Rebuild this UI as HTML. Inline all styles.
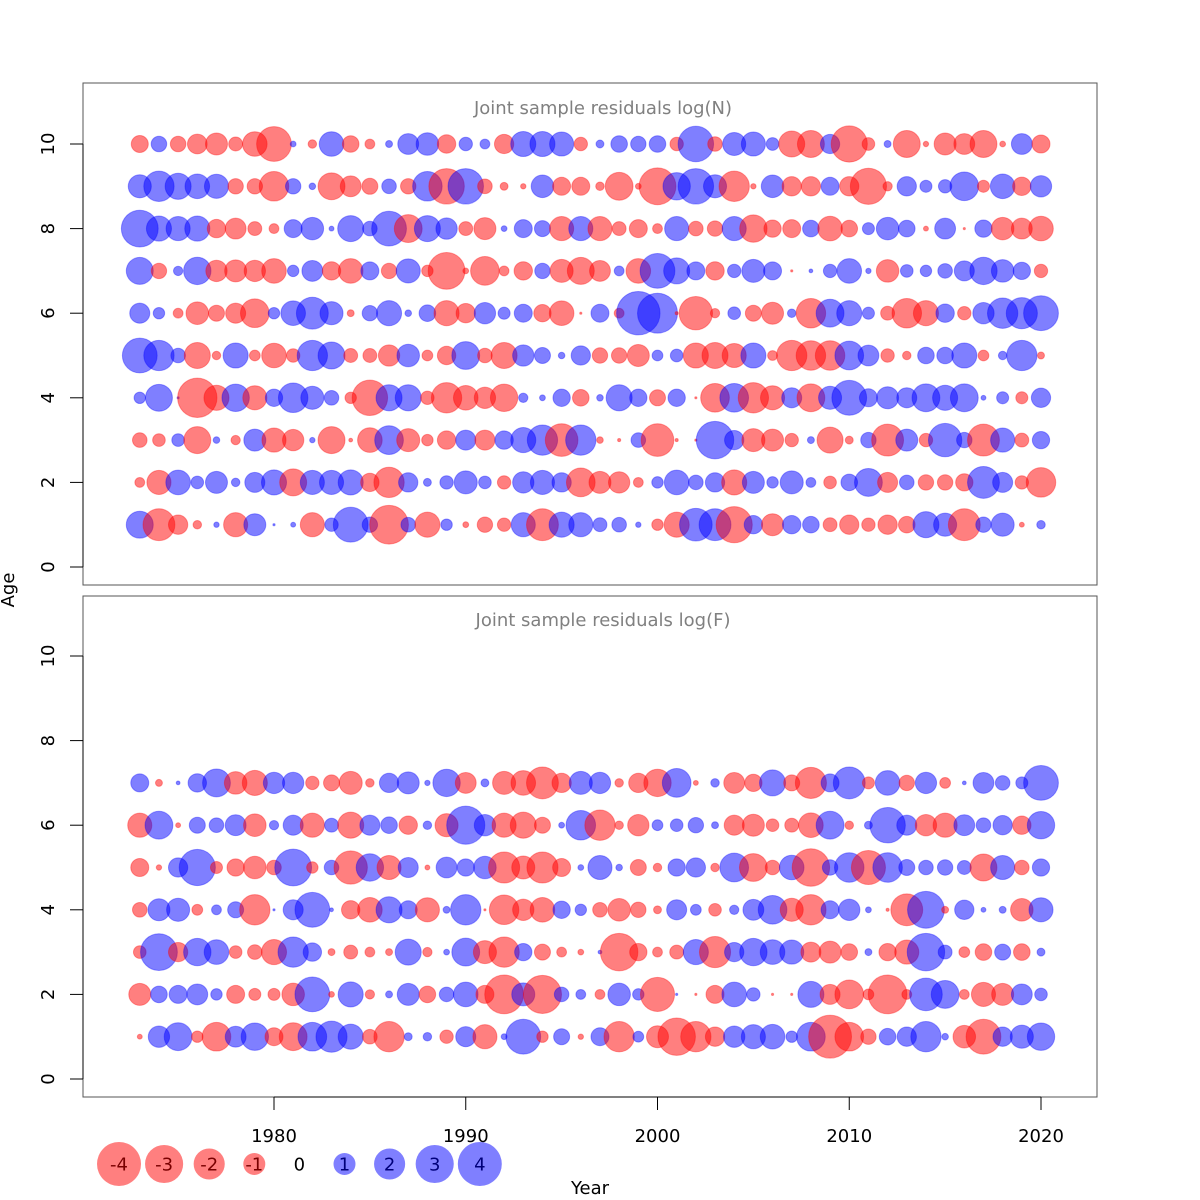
<!DOCTYPE html>
<html><head><meta charset="utf-8"><style>
html,body{margin:0;padding:0;background:#fff}
svg{display:block;font-family:"DejaVu Sans","Liberation Sans",sans-serif}
</style></head><body>
<svg id="chart" width="1200" height="1200" viewBox="0 0 1200 1200" xmlns="http://www.w3.org/2000/svg">
<rect width="1200" height="1200" fill="#fff"/>
<rect x="83" y="83" width="1014" height="502" fill="none" stroke="#555" stroke-width="1"/>
<rect x="83" y="596" width="1014" height="501" fill="none" stroke="#555" stroke-width="1"/>
<text x="603" y="114" text-anchor="middle" font-size="18" fill="#808080">Joint sample residuals log(N)</text>
<text x="603" y="626" text-anchor="middle" font-size="18" fill="#808080">Joint sample residuals log(F)</text>
<text transform="translate(14,590) rotate(-90)" text-anchor="middle" font-size="18" fill="#000">Age</text>
<text x="590" y="1194" text-anchor="middle" font-size="18" fill="#000">Year</text>
<g id="axes"></g>
<g id="marks"></g>
<g id="legend"></g>
</svg>
<script>
const years = [];
for (let y = 1973; y <= 2020; y++) years.push(y);
const xTicks = [1980, 1990, 2000, 2010, 2020];
const yTicks = [0, 2, 4, 6, 8, 10];
const legendValues = [-4, -3, -2, -1, 0, 1, 2, 3, 4];

const nAge10 = [-0.6,0.5,-0.5,-0.8,-1.0,-0.4,-1.25,-2.5,0.07,-0.15,1.25,-0.57,-0.2,0.1,0.9,1.05,-0.7,0.37,0.2,-0.77,1.3,1.3,1.2,-0.37,0.13,0.57,0.49,0.57,-0.37,2.6,-0.44,1.1,1.2,0.33,-1.4,-1.5,0.77,-2.7,-0.33,0.1,-1.5,-0.06,-1.0,-0.9,-1.5,-0.07,0.9,-0.67];
const nAge9 = [1.1,1.9,1.4,1.25,1.2,-0.49,-0.49,-1.8,0.49,0.09,-1.5,-0.9,-0.53,0.44,-0.49,1.8,-2.6,2.6,-0.44,-0.13,-0.06,1.05,-0.67,-0.67,-0.15,-1.6,-0.07,-2.8,1.55,2.6,1.1,-1.9,-0.06,1.05,-0.77,-0.77,0.67,-0.77,-2.7,-0.18,0.77,0.3,0.37,1.7,-0.3,1.25,-0.7,0.94];
const nAge8 = [2.8,1.3,1.2,1.3,-0.7,-0.9,-0.4,-0.2,0.67,1.05,0.05,1.4,0.44,2.5,-1.6,1.4,0.94,-0.4,-1.0,0.07,0.67,0.53,-1.2,1.2,-1.2,-0.4,-0.67,-0.2,1.2,-0.44,-0.49,1.2,-1.55,-0.62,-0.67,0.57,-1.25,-0.57,0.3,1.05,0.57,-0.05,0.9,-0.01,0.62,-1.05,-0.9,-1.25];
const nAge7 = [1.5,-0.49,0.18,1.55,-0.94,-1.0,-0.94,-1.25,0.27,0.9,-0.7,-1.25,0.67,-0.49,1.2,-0.27,-2.8,-0.07,-1.7,-0.2,-0.7,0.49,-1.1,-1.5,-0.9,0.2,-1.25,2.5,1.4,0.67,-0.7,0.37,1.1,0.67,-0.01,0.03,0.37,1.25,0.06,-1.05,0.33,0.27,0.44,0.83,1.55,1.05,0.62,-0.37];
const nAge6 = [0.83,0.27,-0.2,-1.05,-0.53,-0.83,-1.7,0.27,1.25,2.1,1.1,-0.1,0.49,1.3,0.09,0.57,-1.3,-0.77,0.94,0.3,0.67,-0.62,-1.25,-0.01,0.67,-0.2,3.9,3.3,-0.02,-2.3,-0.18,0.33,-0.53,-1.0,0.15,-1.8,1.6,1.3,0.3,-0.4,-1.8,-1.3,0.7,-0.37,0.94,1.9,2.0,2.5];
const nAge5 = [2.5,1.9,0.44,-1.4,-0.15,1.3,-0.24,-1.25,-0.37,1.9,1.5,-0.4,-0.4,-0.94,1.05,-0.24,-0.7,1.6,-0.44,-1.4,0.94,0.53,0.09,0.77,-0.49,-0.49,-1.0,0.24,0.33,-1.3,-1.4,-1.2,1.3,-0.2,-1.9,-1.8,-1.8,1.7,0.9,-0.37,-0.15,0.57,0.57,1.3,-0.24,0.15,1.9,-0.1];
const nAge4 = [0.27,1.5,0.01,-3.2,-1.3,1.55,-1.2,0.62,1.8,1.1,0.44,-0.27,-2.6,1.4,1.4,-0.37,-1.9,-1.25,-0.94,-1.55,0.18,0.07,0.62,-0.57,0.09,1.4,0.62,-0.53,0.62,-0.01,-1.7,1.7,-1.9,-1.2,0.83,-1.6,1.1,2.5,0.67,1.0,0.83,1.6,1.3,1.6,0.05,0.3,-0.3,0.77];
const nAge3 = [-0.44,-0.33,0.33,-1.5,0.09,-0.18,1.0,-1.2,-0.94,0.06,-1.5,-0.03,-1.25,1.7,-1.1,-0.27,-0.7,0.83,-0.83,0.7,1.3,1.9,-2.2,1.9,-0.09,-0.02,0.44,-2.2,-0.02,-0.01,2.9,0.77,-1.1,-1.0,-0.37,0.1,-1.4,-0.13,0.49,-2.1,1.0,-0.37,2.3,0.49,-2.1,1.2,-0.4,0.62];
const nAge2 = [-0.2,-1.2,1.25,0.33,1.0,0.15,0.83,1.3,-1.5,1.2,1.2,1.3,-0.7,-1.9,0.77,0.13,0.37,1.1,0.33,-0.37,0.94,1.2,0.77,-1.7,-1.0,-0.94,-0.2,0.27,1.25,0.44,0.77,-1.3,1.0,0.27,1.1,0.2,-0.33,0.57,1.6,-0.83,0.44,-0.49,-0.49,-0.62,2.1,0.83,-0.37,-1.8];
const nAge1 = [1.5,-2.1,-0.77,-0.15,0.06,-1.2,1.0,0.01,0.05,-1.2,0.37,2.5,0.49,-3.1,0.44,-1.3,0.27,-0.07,-0.49,-0.37,1.2,-2.1,1.3,1.2,0.4,0.44,0.06,-0.27,-1.3,2.2,2.1,-2.7,0.7,-1.0,0.7,0.57,-0.4,-0.77,-0.37,-0.77,-0.57,1.4,1.1,-2.1,0.49,1.1,-0.05,0.15];

const fAge7 = [0.67,-0.1,0.03,0.7,1.6,-1.05,-1.3,0.94,0.94,-0.37,-0.53,-1.1,-0.15,0.77,1.0,0.06,1.55,-0.9,0.13,-1.1,-1.25,-2.1,-0.77,1.1,0.94,-0.15,-0.77,-1.55,1.7,-0.05,0.15,-0.9,-0.62,1.4,-0.53,-2.0,0.67,2.1,-0.3,1.25,-0.49,0.94,-0.24,0.03,0.9,0.44,0.3,2.5];
const fAge6 = [-1.2,1.6,-0.05,0.53,0.44,0.9,-1.05,0.18,0.83,-1.2,0.4,-1.4,0.83,0.57,-0.7,0.15,-1.1,3.0,0.94,-1.2,-1.4,-0.53,0.07,1.8,-1.9,-0.15,-0.94,0.24,0.33,0.49,0.1,-0.83,-1.0,-0.33,-0.4,-1.25,1.6,-0.15,0.13,2.6,0.83,-0.94,-1.2,0.9,0.44,0.77,-0.7,1.55];
const fAge5 = [-0.67,-0.06,0.77,2.7,-0.3,-0.62,-1.05,-0.44,2.8,-0.27,0.44,-2.3,1.55,-1.2,0.83,-0.05,0.9,0.62,1.05,-2.0,-1.1,-2.0,-0.67,0.07,1.2,0.09,-0.53,-0.15,0.62,0.77,-0.15,1.7,-1.6,-0.44,1.25,-2.9,0.49,1.8,-2.4,1.8,0.53,0.44,0.49,0.4,-1.5,1.2,-0.44,0.62];
const fAge4 = [-0.44,1.0,1.1,-0.24,0.2,0.53,-1.9,0.01,0.83,2.5,0.03,-0.7,-1.25,1.4,0.67,-1.2,0.1,1.9,-0.01,-1.8,-0.94,-1.25,0.62,0.27,-0.44,-1.05,-0.49,-0.13,0.83,0.24,-0.33,0.18,0.9,1.7,-1.1,-1.9,0.67,0.94,0.07,-0.02,-2.1,2.8,-0.1,0.77,0.05,0.1,-1.05,1.2];
const fAge3 = [-0.33,2.8,-0.77,1.55,1.25,-0.33,-0.44,-1.3,1.9,0.7,-0.1,-0.4,-0.2,-0.1,1.4,-0.18,0.07,1.6,-1.1,-1.9,0.62,-0.53,-0.2,-0.07,0.03,-2.9,-0.62,-0.2,-0.4,1.3,-2.0,0.77,1.55,1.25,1.2,-0.83,-1.0,-0.57,0.1,-0.62,-1.2,2.9,0.4,-0.24,-0.57,0.53,-0.57,0.13];
const fAge2 = [-1.0,0.57,0.67,0.9,0.27,-0.67,-0.3,-0.3,-1.05,2.5,-0.07,1.3,-0.18,0.1,1.0,-0.57,0.44,1.25,-0.67,-3.1,1.1,-3.0,0.44,0.2,-0.2,1.05,0.27,-2.4,0.01,-0.01,-0.67,1.25,0.37,-0.01,-0.01,1.4,-0.83,-1.7,-0.24,-3.1,-0.2,2.2,1.6,-0.2,-1.2,-1.0,0.9,0.33];
const fAge1 = [-0.05,0.94,1.6,-0.27,-1.7,0.9,1.55,-0.67,-1.6,1.7,2.0,1.3,-0.44,-1.9,0.13,0.15,-0.37,0.83,-1.2,0.07,2.5,-0.27,0.53,-0.06,0.67,-1.9,0.24,-1.0,-2.9,-1.9,-0.77,0.94,1.2,1.25,0.27,1.7,-3.8,-1.7,-0.49,0.57,0.77,1.9,0.09,-1.05,-2.5,0.77,1.1,1.55];

const nRows = [[10,nAge10],[9,nAge9],[8,nAge8],[7,nAge7],[6,nAge6],[5,nAge5],[4,nAge4],[3,nAge3],[2,nAge2],[1,nAge1]];
const fRows = [[7,fAge7],[6,fAge6],[5,fAge5],[4,fAge4],[3,fAge3],[2,fAge2],[1,fAge1]];

const NS = "http://www.w3.org/2000/svg";
function xScale(yr){ return 274 + (yr - 1980) * (1041 - 274) / 40; }
function yScaleN(a){ return 567 - a * 42.3; }
function yScaleF(a){ return 1079 - a * 42.3; }
function rScale(v){ return 11 * Math.sqrt(Math.abs(v)); }
function mk(tag, attrs, parent){
  const e = document.createElementNS(NS, tag);
  for (const k in attrs) e.setAttribute(k, attrs[k]);
  parent.appendChild(e);
  return e;
}
const marks = document.getElementById('marks');
const axes = document.getElementById('axes');
const legend = document.getElementById('legend');

function drawPanel(rows, ys, prefix){
  rows.forEach(([age, vals]) => {
    vals.forEach((v, i) => {
      if (v === 0) return;
      const c = mk('circle', {cx: xScale(years[i]), cy: ys(age), r: rScale(v),
        fill: v < 0 ? 'rgba(255,0,0,0.5)' : 'rgba(0,0,255,0.5)',
        stroke: v < 0 ? 'rgba(255,0,0,0.35)' : 'rgba(0,0,255,0.35)', 'stroke-width': 1}, marks);
      
      
    });
  });
  // y axis
  const ya = mk('line', {x1: 83, x2: 83, y1: ys(0), y2: ys(10), stroke: '#000'}, axes);
  
  
  yTicks.forEach(t => {
    const tl = mk('line', {x1: 70, x2: 83, y1: ys(t), y2: ys(t), stroke: '#000'}, axes);
    
    
    const tx = mk('text', {transform: 'translate(54,' + ys(t) + ') rotate(-90)', 'text-anchor': 'middle', 'font-size': 18, fill: '#000'}, axes);
    tx.textContent = t;
    
    
  });
}
drawPanel(nRows, yScaleN, 'n');
drawPanel(fRows, yScaleF, 'f');

// x axis
const xa = mk('line', {x1: xScale(xTicks[0]), x2: xScale(xTicks[xTicks.length-1]), y1: 1097, y2: 1097, stroke: '#000'}, axes);


xTicks.forEach(t => {
  const tl = mk('line', {x1: xScale(t), x2: xScale(t), y1: 1097, y2: 1110, stroke: '#000'}, axes);
  
  
  const tx = mk('text', {x: xScale(t), y: 1142, 'text-anchor': 'middle', 'font-size': 18, fill: '#000'}, axes);
  tx.textContent = t;
  
  
});

// legend
legendValues.forEach((v, i) => {
  const cx = 119 + i * 45.1, cy = 1164;
  if (v !== 0) {
    const c = mk('circle', {cx: cx, cy: cy, r: rScale(v), fill: v < 0 ? 'rgba(255,0,0,0.5)' : 'rgba(0,0,255,0.5)'}, legend);
    
    
  }
  const t = mk('text', {x: cx, y: cy + 6.5, 'text-anchor': 'middle', 'font-size': 18, fill: v < 0 ? '#7a0000' : (v > 0 ? '#00007a' : '#000')}, legend);
  t.textContent = v;
  
  
});
</script>
</body></html>
